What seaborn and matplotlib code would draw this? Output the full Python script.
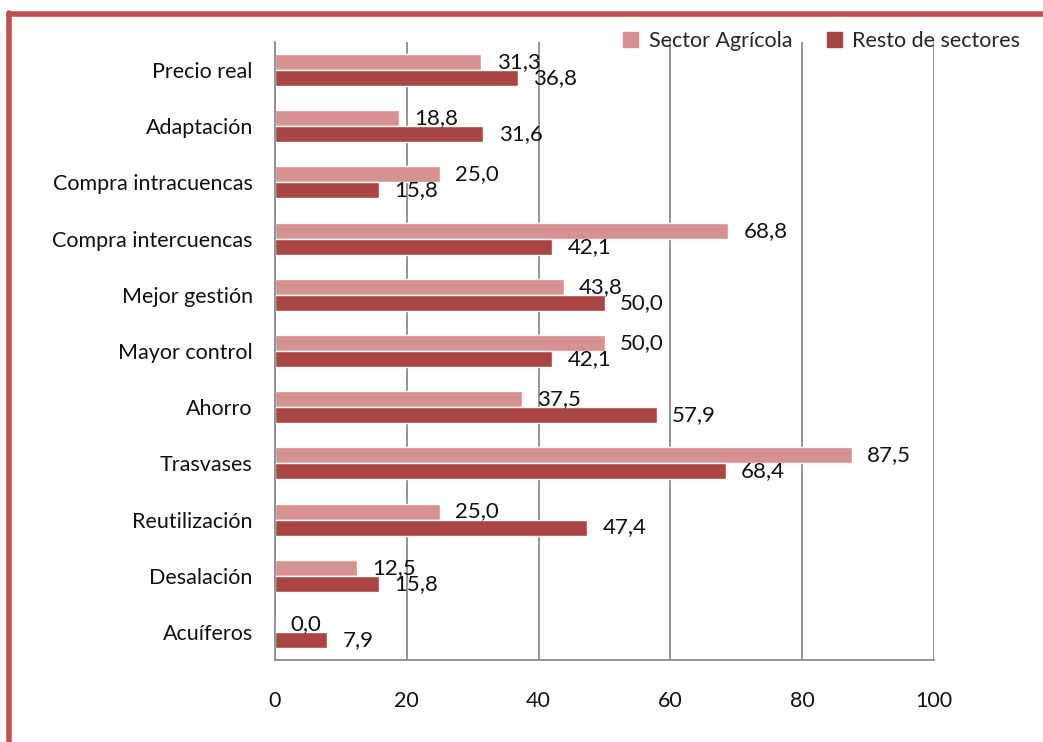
import pandas as pd
import numpy as np
import matplotlib
matplotlib.use("Agg")
import matplotlib.pyplot as plt
import seaborn as sns
from matplotlib.patches import Rectangle
from matplotlib.lines import Line2D

# data
categorias = ["Precio real", "Adaptación", "Compra intracuencas", "Compra intercuencas",
              "Mejor gestión", "Mayor control", "Ahorro", "Trasvases",
              "Reutilización", "Desalación", "Acuíferos"]
agricola = [31.3, 18.8, 25.0, 68.8, 43.8, 50.0, 37.5, 87.5, 25.0, 12.5, 0.0]
resto = [36.8, 31.6, 15.8, 42.1, 50.0, 42.1, 57.9, 68.4, 47.4, 15.8, 7.9]
series = ["Sector Agrícola", "Resto de sectores"]
colores = ["#D59290", "#A94644"]
xticks = [0, 20, 40, 60, 80, 100]

df = pd.DataFrame({
    "categoria": categorias * 2,
    "valor": agricola + resto,
    "serie": [series[0]] * len(categorias) + [series[1]] * len(categorias),
})

sns.set_style("white")
plt.rcParams["font.family"] = ["Lato", "DejaVu Sans"]
fs = 15.5

fig = plt.figure(figsize=(10.43, 7.42), dpi=100)
ax = fig.add_axes([0.2637, 0.1105, 0.6318, 0.8329])

sns.barplot(data=df, y="categoria", x="valor", hue="serie", hue_order=series,
            order=categorias, palette=colores, orient="h", width=0.57,
            saturation=1, ax=ax, legend=False)

# value labels with decimal comma
for cont in ax.containers:
    vals = cont.datavalues
    ax.bar_label(cont, labels=[f"{v:.1f}".replace(".", ",") for v in vals],
                 padding=11, fontsize=fs + 0.5, color="#111111")

ax.set_xlim(0, 100)
ax.set_ylim(len(categorias) - 0.5, -0.5)
ax.set_xticks(xticks)
ax.set_xlabel("")
ax.set_ylabel("")
ax.grid(axis="x", color="#8c8c8c", linewidth=1.3)
ax.grid(axis="y", visible=False)
ax.set_axisbelow(True)

for s in ["top", "right"]:
    ax.spines[s].set_visible(False)
for s in ["left", "bottom"]:
    ax.spines[s].set_color("#8c8c8c")
    ax.spines[s].set_linewidth(1.3)

ax.tick_params(axis="x", direction="out", length=6, width=1.3, color="#8c8c8c",
               labelsize=fs, pad=16, labelcolor="#111111")
ax.tick_params(axis="y", which="major", length=0, labelsize=fs, pad=16,
               labelcolor="#111111")
ax.set_yticks(np.arange(-0.5, len(categorias), 1.0), minor=True)
ax.tick_params(axis="y", which="minor", direction="out", length=6, width=1.3,
               color="#8c8c8c")

# legend at top right
handles = [Rectangle((0, 0), 1, 1, color=c) for c in colores]
fig.legend(handles, series, loc="upper right", bbox_to_anchor=(0.997, 0.984),
           ncol=2, frameon=False, fontsize=fs, handlelength=0.7, handleheight=0.7,
           handletextpad=0.5, columnspacing=1.6)

# red frame on top and left
fig.add_artist(Line2D([0.0085, 1.0], [0.981, 0.981], color="#C0504D", linewidth=4,
                      transform=fig.transFigure))
fig.add_artist(Line2D([0.0088, 0.0088], [0.0, 0.983], color="#C0504D", linewidth=4,
                      transform=fig.transFigure))

fig.savefig("out.png", dpi=100)
